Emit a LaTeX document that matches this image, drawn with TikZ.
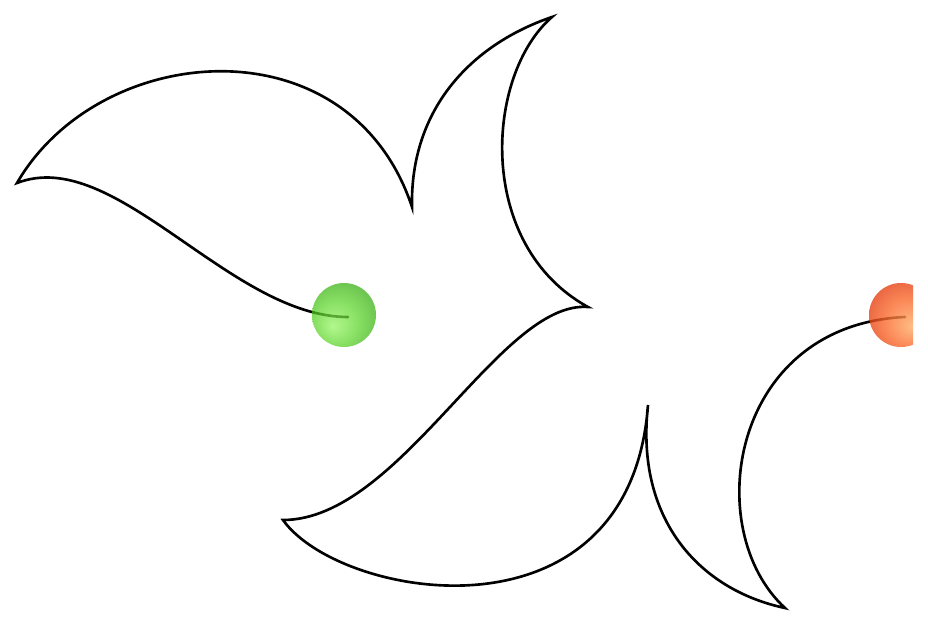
\documentclass[tikz,border=0pt]{standalone}
\usetikzlibrary{positioning}

\definecolor{greenlight}{rgb}{0.58,0.96,0.38}
\definecolor{greenmid}{rgb}{0.34,0.82,0.14}
\definecolor{greendark}{rgb}{0.20,0.68,0.05}
\definecolor{redlight}{rgb}{1.00,0.68,0.40}
\definecolor{redmid}{rgb}{0.98,0.42,0.18}
\definecolor{reddark}{rgb}{0.90,0.26,0.08}

\pgfdeclareradialshading{greenball}{\pgfpoint{-9bp}{-9bp}}{color(0bp)=(greenlight); color(18bp)=(greenmid); color(30bp)=(greendark); color(50bp)=(greendark)}
\pgfdeclareradialshading{redball}{\pgfpoint{9bp}{-9bp}}{color(0bp)=(redlight); color(18bp)=(redmid); color(30bp)=(reddark); color(50bp)=(reddark)}

\tikzset{
  curve/.style={line width=1.5pt, line cap=round},
  startdot/.style={circle, minimum size=1.28cm, inner sep=0pt, shading=greenball, opacity=0.72},
  enddot/.style={circle, minimum size=1.28cm, inner sep=0pt, shading=redball, opacity=0.8},
}

\begin{document}
\begin{tikzpicture}[x=0.02cm, y=-0.02cm]
  \useasboundingbox (0, 0) rectangle (928, 624);

  \coordinate (s) at (348, 317);
  \coordinate (e) at (905, 317);

  \draw[curve] (s)
    .. controls (230, 317) and (115, 145) .. (17, 183)
    .. controls (100, 40) and (350, 20) .. (412, 207)
    .. controls (410, 110) and (470, 45) .. (552, 17)
    .. controls (485, 75) and (475, 245) .. (588, 307)
    .. controls (500, 300) and (400, 520) .. (283, 520)
    .. controls (340, 600) and (630, 650) .. (648, 405)
    .. controls (635, 520) and (700, 590) .. (785, 608)
    .. controls (700, 530) and (730, 325) .. (e);

  \node[startdot] (start) at (344, 315) {};
  \begin{scope}
    \clip (0, 0) rectangle (913, 624);
    \node[enddot] (end) at (901, 315) {};
  \end{scope}
\end{tikzpicture}
\end{document}
